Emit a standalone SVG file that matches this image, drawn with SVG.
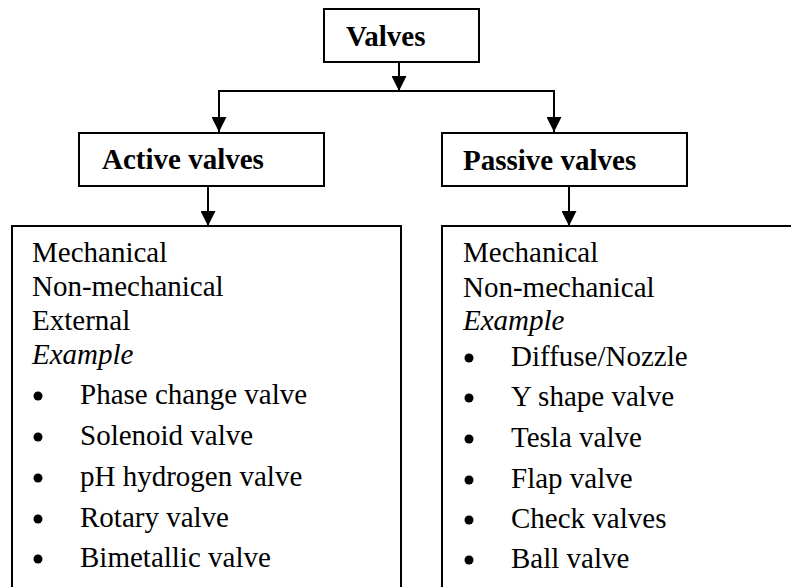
<svg xmlns="http://www.w3.org/2000/svg" width="791" height="587" viewBox="0 0 791 587">
<defs>
<marker id="ah" markerUnits="userSpaceOnUse" markerWidth="15" markerHeight="15" refX="15" refY="7.5" orient="auto">
<path d="M0,0 L15,7.5 L0,15 Z" fill="#000"/>
</marker>
<style>
.box{fill:#fff;stroke:#000;stroke-width:2}
.t{font-family:"Liberation Serif","Times New Roman",serif;font-size:29px;fill:#000}
.b{font-weight:bold}
.i{font-style:italic}
.c{fill:none;stroke:#000;stroke-width:2}
</style>
</defs>
<rect width="791" height="587" fill="#fff"/>
<g id="connectors">
<line class="c" x1="399" y1="62" x2="399" y2="91" marker-end="url(#ah)"/>
<polyline class="c" points="219,132 219,91 554,91 554,132" style="marker-end:none"/>
<line class="c" x1="219" y1="91" x2="219" y2="132" marker-end="url(#ah)"/>
<line class="c" x1="554" y1="91" x2="554" y2="132" marker-end="url(#ah)"/>
<line class="c" x1="208" y1="186" x2="208" y2="226" marker-end="url(#ah)"/>
<line class="c" x1="569" y1="186" x2="569" y2="226" marker-end="url(#ah)"/>
</g>
<g id="valves">
<rect class="box" x="324" y="9" width="155" height="53"/>
<text class="t b" x="346" y="46">Valves</text>
</g>
<g id="active">
<rect class="box" x="79" y="133" width="245" height="53"/>
<text class="t b" x="102" y="169">Active valves</text>
</g>
<g id="passive">
<rect class="box" x="442" y="133" width="245" height="53"/>
<text class="t b" x="463" y="170">Passive valves</text>
</g>
<g id="active-list">
<rect class="box" x="12" y="226" width="389" height="380"/>
<text class="t" x="32" y="262">Mechanical</text>
<text class="t" x="32" y="296">Non-mechanical</text>
<text class="t" x="32" y="330">External</text>
<text class="t i" x="32" y="364">Example</text>
<g class="t">
<circle cx="38" cy="396" r="4.5"/><text x="80" y="404">Phase change valve</text>
<circle cx="38" cy="437" r="4.5"/><text x="80" y="445">Solenoid valve</text>
<circle cx="38" cy="478" r="4.5"/><text x="80" y="486">pH hydrogen valve</text>
<circle cx="38" cy="519" r="4.5"/><text x="80" y="527">Rotary valve</text>
<circle cx="38" cy="559" r="4.5"/><text x="80" y="567">Bimetallic valve</text>
</g>
</g>
<g id="passive-list">
<rect class="box" x="442" y="226" width="360" height="380"/>
<text class="t" x="463" y="262">Mechanical</text>
<text class="t" x="463" y="297">Non-mechanical</text>
<text class="t i" x="463" y="330">Example</text>
<g class="t">
<circle cx="469" cy="358" r="4.5"/><text x="511" y="366">Diffuse/Nozzle</text>
<circle cx="469" cy="398" r="4.5"/><text x="511" y="406">Y shape valve</text>
<circle cx="469" cy="439" r="4.5"/><text x="511" y="447">Tesla valve</text>
<circle cx="469" cy="480" r="4.5"/><text x="511" y="488">Flap valve</text>
<circle cx="469" cy="520" r="4.5"/><text x="511" y="528">Check valves</text>
<circle cx="469" cy="560" r="4.5"/><text x="511" y="568">Ball valve</text>
</g>
</g>
</svg>
